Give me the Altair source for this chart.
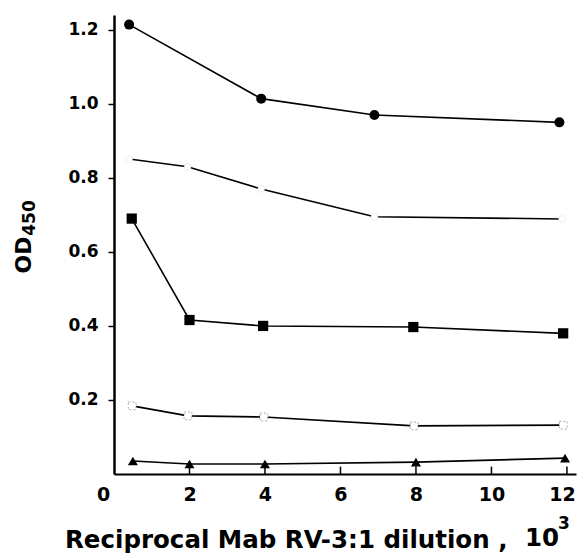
import altair as alt
import pandas as pd

# ---- data ----
x_circle = [0.4, 3.9, 6.9, 11.8]
y_circle = [1.214, 1.014, 0.970, 0.950]

x_dot = [0.4, 1.95, 3.9, 6.9, 11.87]
y_dot = [0.851, 0.830, 0.770, 0.695, 0.689]

x_sq = [0.47, 2.0, 3.95, 7.93, 11.9]
y_sq = [0.690, 0.416, 0.400, 0.397, 0.380]

x_osq = [0.48, 1.96, 3.97, 7.95, 11.9]
y_osq = [0.184, 0.157, 0.154, 0.130, 0.132]

x_tri = [0.5, 2.0, 4.0, 8.0, 11.95]
y_tri = [0.035, 0.027, 0.027, 0.032, 0.043]

x_tick_values = [0, 2, 4, 6, 8, 10, 12]
x_inner_ticks = [2, 4, 6, 8, 10, 12]
y_tick_values = [0.2, 0.4, 0.6, 0.8, 1.0, 1.2]

rows = []
for name, xs, ys in [("circle", x_circle, y_circle), ("dot", x_dot, y_dot),
                     ("sq", x_sq, y_sq), ("osq", x_osq, y_osq), ("tri", x_tri, y_tri)]:
    for a, b in zip(xs, ys):
        rows.append({"series": name, "x": a, "y": b})
df = pd.DataFrame(rows)

FONT = "DejaVu Sans"

xscale = alt.Scale(domain=[0, 12.24], nice=False, zero=False)
yscale = alt.Scale(domain=[0, 1.24], nice=False, zero=False)

x_enc = alt.X("x:Q", scale=xscale, axis=alt.Axis(
    values=x_tick_values, format="d", ticks=False, grid=False, title=None,
    labelFont=FONT, labelFontSize=19, labelFontWeight="bold", labelColor="black",
    labelPadding=11, labelFlush=False,
    labelOffset=alt.expr("datum.value == 0 ? -11 : (datum.value == 12 ? -5 : 0)"),
    domainColor="black", domainWidth=2))
y_enc = alt.Y("y:Q", scale=yscale, axis=alt.Axis(
    values=y_tick_values, format=".1f", grid=False, title=None,
    tickSize=6, tickWidth=1.5, tickColor="black",
    labelFont=FONT, labelFontSize=17, labelFontWeight="bold", labelColor="black",
    labelPadding=10, domainColor="black", domainWidth=2.5))

base = alt.Chart(df)

lines = base.mark_line(color="black", strokeWidth=1.6).encode(
    x=x_enc, y=y_enc, detail="series:N")


def pts(name, **kw):
    return base.transform_filter(alt.datum.series == name).mark_point(opacity=1, **kw).encode(
        x="x:Q", y="y:Q")


p_circle = pts("circle", shape="circle", filled=True, color="black", size=100)
p_dot = pts("dot", shape="circle", filled=False, fill="white", stroke="#dddddd",
            strokeWidth=0.5, size=45)
p_sq = pts("sq", shape="square", filled=True, color="black", size=105)
p_osq = pts("osq", shape="square", filled=False, fill="white", stroke="#aaaaaa",
            strokeWidth=1, strokeDash=[2, 2], size=60)
p_tri = pts("tri", shape="triangle-up", filled=True, color="black", size=100)

tick_df = pd.DataFrame({"x": x_inner_ticks, "y0": [0.0] * len(x_inner_ticks),
                        "y1": [0.02] * len(x_inner_ticks)})
ticks = alt.Chart(tick_df).mark_rule(color="black", strokeWidth=1.5).encode(
    x="x:Q", y="y0:Q", y2="y1:Q")


def label(text, size, x, y, angle=0, align="center", baseline="middle"):
    kw = dict(font=FONT, fontWeight="bold", fontSize=size, color="black",
              align=align, baseline=baseline)
    if angle:
        kw["angle"] = angle
    return alt.Chart(pd.DataFrame({"t": [text]})).mark_text(**kw).encode(
        text="t:N", x=alt.value(x), y=alt.value(y))


t_od = label("OD", 22, -90, 240, angle=270)
t_450 = label("450", 17, -84, 203, angle=270)
t_x = label("Reciprocal Mab RV-3:1 dilution ,", 24.5, -49, 533,
            align="left", baseline="alphabetic")
t_10 = label("10", 24.5, 411, 531, align="left", baseline="alphabetic")
t_sup = label("3", 17, 444, 514, align="left", baseline="alphabetic")

chart = alt.layer(lines, ticks, p_dot, p_osq, p_circle, p_sq, p_tri,
                  t_od, t_450, t_x, t_10, t_sup).properties(
    width=462, height=459, autosize="none",
    padding={"left": 106, "top": 7, "right": 1, "bottom": 81},
    background="white",
).configure_view(stroke=None)

chart.save("out.html", embed_options={"renderer": "svg", "actions": False})
